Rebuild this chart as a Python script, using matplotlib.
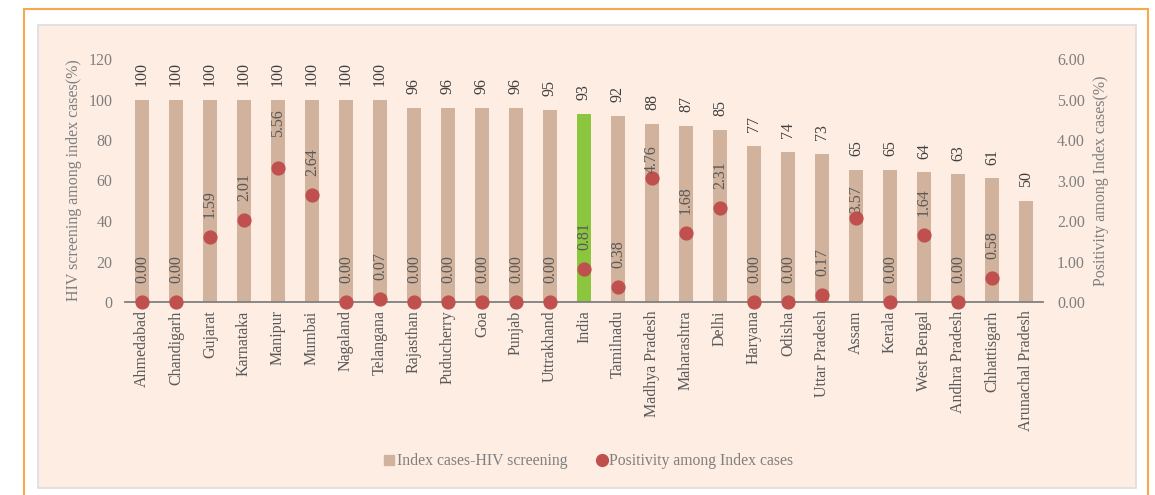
import matplotlib.pyplot as plt
from matplotlib.patches import Rectangle
from matplotlib.lines import Line2D

states = ['Ahmedabad', 'Chandigarh', 'Gujarat', 'Karnataka', 'Manipur', 'Mumbai',
          'Nagaland', 'Telangana', 'Rajasthan', 'Puducherry', 'Goa', 'Punjab',
          'Uttrakhand', 'India', 'Tamilnadu', 'Madhya Pradesh', 'Maharashtra',
          'Delhi', 'Haryana', 'Odisha', 'Uttar Pradesh', 'Assam', 'Kerala',
          'West Bengal', 'Andhra Pradesh', 'Chhattisgarh', 'Arunachal Pradesh']
screening = [100, 100, 100, 100, 100, 100, 100, 100, 96, 96, 96, 96, 95, 93, 92,
             88, 87, 85, 77, 74, 73, 65, 65, 64, 63, 61, 50]
# dots as drawn in the picture (some sit lower than their labels say)
positivity = [0.0, 0.0, 1.6, 2.02, 3.31, 2.65, 0.0, 0.07, 0.0, 0.0, 0.0, 0.0, 0.0,
              0.81, 0.37, 3.06, 1.70, 2.32, 0.0, 0.0, 0.17, 2.07, 0.0, 1.66, 0.0,
              0.59, None]
pos_labels = ['0.00', '0.00', '1.59', '2.01', '5.56', '2.64', '0.00', '0.07', '0.00',
              '0.00', '0.00', '0.00', '0.00', '0.81', '0.38', '4.76', '1.68', '2.31',
              '0.00', '0.00', '0.17', '3.57', '0.00', '1.64', '0.00', '0.58', '']

tan = '#D1B29C'
green = '#8CC63F'
red = '#C0504D'
grey = '#595959'
light = '#7F7F7F'
bg = '#FDEDE3'
fs = 11.5

# label gaps (points) above the dots, a few were nudged in the original
lbl_gap = {'Manipur': 22, 'Madhya Pradesh': 4, 'Assam': 4}

plt.rcParams['font.family'] = 'Liberation Serif'

fig = plt.figure(figsize=[11.55, 4.95], dpi=100)
W, H = 1155, 495

def box(x0, y0, x1, y1, **kw):
    fig.patches.append(Rectangle((x0 / W, 1 - y1 / H), (x1 - x0) / W, (y1 - y0) / H,
                                 transform=fig.transFigure, zorder=-5, **kw))

box(24, 9, 1148, 500, facecolor='white', edgecolor='#F5A94A', linewidth=1.5)
box(38, 25, 1136, 488, facecolor=bg, edgecolor='#DDDDDD', linewidth=1.2)

ax = fig.add_axes([125 / W, 1 - 302 / H, 918 / W, 243 / H])
ax.set_facecolor('none')
x = list(range(len(states)))
colors = [green if s == 'India' else tan for s in states]
ax.bar(x, screening, width=0.44, color=colors, zorder=2)
ax.set_xlim(-0.5, len(states) - 0.5)
ax.set_ylim(0, 120)
ax.set_yticks(range(0, 121, 20))
ax.set_xticks(x)
ax.set_xticklabels(states, rotation=90, fontsize=fs)
ax.tick_params(axis='both', length=0, labelsize=fs)
ax.tick_params(axis='y', pad=9, labelcolor=light)
ax.tick_params(axis='x', pad=6, labelcolor=grey)
for s in ['top', 'left', 'right']:
    ax.spines[s].set_visible(False)
ax.spines['bottom'].set_color('#808080')
ax.spines['bottom'].set_linewidth(1.3)
ax.set_ylabel('HIV screening among index cases(%)', color=light, fontsize=fs, labelpad=5)

for i, v in enumerate(screening):
    ax.annotate(str(v), (i, v), xytext=(0, 10), textcoords='offset points',
                rotation=90, ha='center', va='bottom', fontsize=fs, color='#404040')

ax2 = ax.twinx()
ax2.set_ylim(0, 6)
ax2.set_yticks(range(0, 7))
ax2.set_yticklabels(['%.2f' % t for t in range(0, 7)])
ax2.tick_params(axis='y', length=0, labelsize=fs, labelcolor=light, pad=10)
for s in ['top', 'left', 'right', 'bottom']:
    ax2.spines[s].set_visible(False)
ax2.set_ylabel('Positivity among Index cases(%)', color=light, fontsize=fs, labelpad=6)

px = [i for i, p in enumerate(positivity) if p is not None]
py = [p for p in positivity if p is not None]
ax2.scatter(px, py, s=85, color=red, zorder=4, clip_on=False)
for i, p in zip(px, py):
    ax2.annotate(pos_labels[i], (i, p), xytext=(0, lbl_gap.get(states[i], 13.5)),
                 textcoords='offset points', rotation=90, ha='center', va='bottom',
                 fontsize=fs, color=grey, zorder=5)

handles = [Line2D([], [], marker='s', linestyle='none', color=tan, markersize=7),
           Line2D([], [], marker='o', linestyle='none', color=red, markersize=8.5)]
fig.legend(handles, ['Index cases-HIV screening', 'Positivity among Index cases'],
           loc='center', bbox_to_anchor=(588 / W, 1 - 461 / H), ncol=2, frameon=False,
           handlelength=0.8, handletextpad=0.1, columnspacing=1.8, fontsize=11.3,
           labelcolor=light)

fig.savefig('out.png', dpi=100)
